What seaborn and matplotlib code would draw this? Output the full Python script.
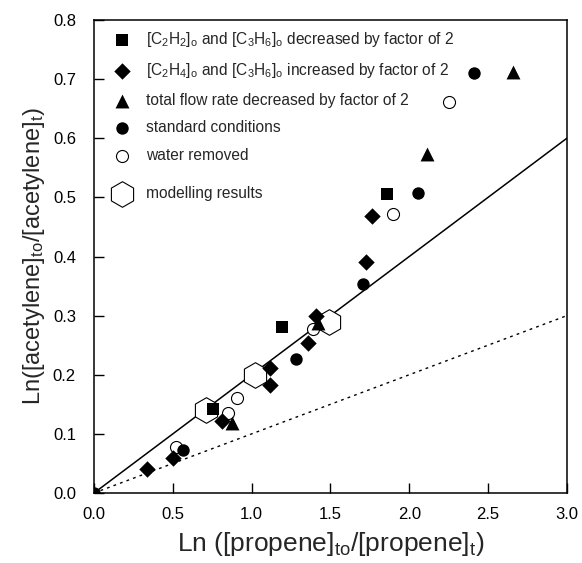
import numpy as np
import pandas as pd
import matplotlib
matplotlib.use("Agg")
import matplotlib.pyplot as plt
import seaborn as sns


# ------------------------------------------------------------
# data
# ------------------------------------------------------------
sq_x = [0.757, 1.19, 1.856]
sq_y = [0.142, 0.281, 0.505]

dia_x = [0.338, 0.503, 0.81, 1.116, 1.116, 1.359, 1.406, 1.723, 1.761]
dia_y = [0.040, 0.060, 0.122, 0.183, 0.211, 0.254, 0.300, 0.391, 0.469]

tri_x = [0.873, 1.423, 2.114, 2.659]
tri_y = [0.118, 0.288, 0.574, 0.712]

std_x = [0.0, 0.562, 1.279, 1.708, 2.057, 2.41]
std_y = [0.0, 0.073, 0.227, 0.353, 0.508, 0.710]

water_x = [0.52, 0.85, 0.905, 1.39, 1.894, 2.251]
water_y = [0.078, 0.136, 0.160, 0.277, 0.472, 0.661]

model_x = [0.71, 1.021, 1.49]
model_y = [0.140, 0.200, 0.290]

line_x = [0.0, 3.0]
slope_solid = 0.2
slope_dotted = 0.1

labels = [
    "[C$_2$H$_2$]$_o$ and [C$_3$H$_6$]$_o$ decreased by factor of 2",
    "[C$_2$H$_4$]$_o$ and [C$_3$H$_6$]$_o$ increased by factor of 2",
    "total flow rate decreased by factor of 2",
    "standard conditions",
    "water removed",
    "modelling results",
]

# ------------------------------------------------------------
# style
# ------------------------------------------------------------
sns.set_style("ticks")
plt.rcParams["font.family"] = ["Liberation Sans", "DejaVu Sans"]
plt.rcParams["mathtext.default"] = "regular"

fig = plt.figure(figsize=(5.82, 5.63), dpi=100)
ax = fig.add_axes([0.1615, 0.1243, 0.8125, 0.8402])

# lines
lx = np.array(line_x)
sns.lineplot(x=lx, y=slope_dotted * lx, ax=ax, color="black", lw=1.0,
             linestyle=(0, (2, 3)), zorder=1)
sns.lineplot(x=lx, y=slope_solid * lx, ax=ax, color="black", lw=1.1, zorder=1)

# model hexagons
sns.scatterplot(x=model_x, y=model_y, ax=ax, marker="h", s=340,
                facecolor="white", edgecolor="black", linewidth=0.8,
                zorder=2, label=labels[5])

# experimental series
sns.scatterplot(x=water_x, y=water_y, ax=ax, marker="o", s=75,
                facecolor="white", edgecolor="black", linewidth=0.8,
                zorder=3, label=labels[4])
sns.scatterplot(x=std_x, y=std_y, ax=ax, marker="o", s=80,
                color="black", edgecolor="black", linewidth=0,
                zorder=3, label=labels[3])
sns.scatterplot(x=tri_x, y=tri_y, ax=ax, marker="^", s=100,
                color="black", edgecolor="black", linewidth=0,
                zorder=3, label=labels[2])
sns.scatterplot(x=dia_x, y=dia_y, ax=ax, marker="D", s=70,
                color="black", edgecolor="black", linewidth=0,
                zorder=3, label=labels[1])
sns.scatterplot(x=sq_x, y=sq_y, ax=ax, marker="s", s=63,
                color="black", edgecolor="black", linewidth=0,
                zorder=3, label=labels[0])

handles, labs = ax.get_legend_handles_labels()
hmap = dict(zip(labs, handles))

leg1 = ax.legend([hmap[l] for l in labels[:5]], labels[:5], loc="upper left",
                 bbox_to_anchor=(0.0, 1.012), frameon=False, fontsize=11.2,
                 labelspacing=0.8, handletextpad=0.75, borderpad=0.5,
                 handlelength=1.6)
ax.add_artist(leg1)
ax.legend([hmap[labels[5]]], [labels[5]], loc="center left",
          bbox_to_anchor=(0.0, 0.634), frameon=False, fontsize=11.2,
          handletextpad=0.75, borderpad=0.5, handlelength=1.6)

# axes
ax.set_xlim(0, 3.0)
ax.set_ylim(0, 0.8)
ax.set_xticks(np.arange(0, 3.01, 0.5))
ax.set_yticks(np.arange(0, 0.81, 0.1))
ax.xaxis.set_major_formatter(matplotlib.ticker.FormatStrFormatter("%.1f"))
ax.yaxis.set_major_formatter(matplotlib.ticker.FormatStrFormatter("%.1f"))
ax.tick_params(direction="in", length=7, width=1, labelsize=12,
               top=False, right=False, colors="black")
ax.tick_params(axis="x", pad=10)
ax.tick_params(axis="y", pad=13)
for sp in ax.spines.values():
    sp.set_visible(True)
    sp.set_linewidth(1.1)
    sp.set_color("black")

ax.set_xlabel("Ln ([propene]$_{to}$/[propene]$_t$)", fontsize=19, labelpad=6)
ax.set_ylabel("Ln([acetylene]$_{to}$/[acetylene]$_t$)", fontsize=17, labelpad=4)

fig.savefig("out.png", dpi=100)
